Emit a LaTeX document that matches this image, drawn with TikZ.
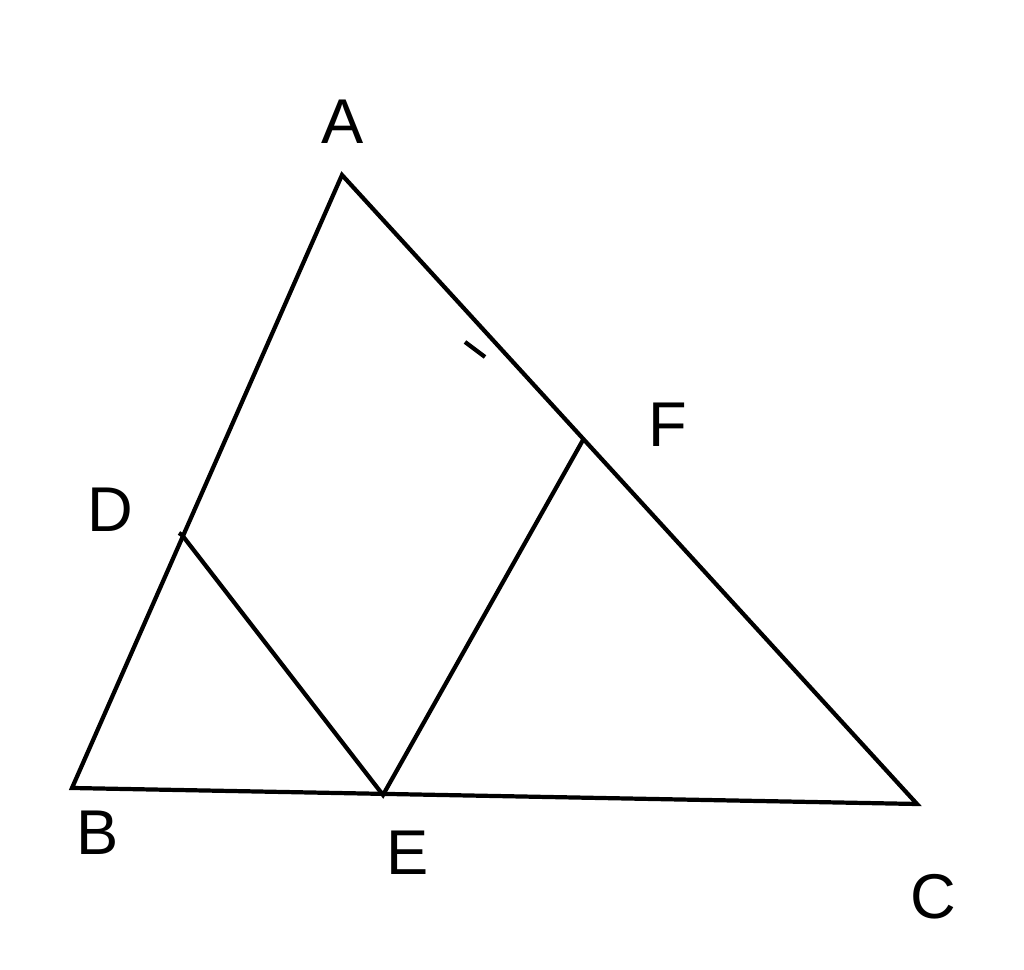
\documentclass[tikz,border=0pt]{standalone}
\usepackage{fontspec}
\setmainfont{Liberation Sans}
\begin{document}
\begin{tikzpicture}[line width=1.2pt, lbl/.style={font=\fontsize{18}{20}\selectfont}]
\useasboundingbox (0,0) rectangle (10.24,9.70);
\coordinate (A) at (3.42,7.95);
\coordinate (B) at (0.72,1.82);
\coordinate (C) at (9.17,1.66);
\coordinate (D) at (1.82,4.35);
\coordinate (E) at (3.83,1.75);
\coordinate (F) at (5.83,5.30);
\coordinate (t1) at (4.65,6.28);
\coordinate (t2) at (4.85,6.13);

\node [lbl] (la) at (3.43,8.48) {A};
\node [lbl] (lb) at (0.98,1.37) {B};
\node [lbl] (lc) at (9.33,0.73) {C};
\node [lbl] (ld) at (1.10,4.60) {D};
\node [lbl] (le) at (4.08,1.17) {E};
\node [lbl] (lf) at (6.68,5.45) {F};

\draw (A) -- (B) -- (C) -- cycle;
\draw (D) -- (E) -- (F);
\draw (1.79,4.37) -- (D);
\draw (t1) -- (t2);
\end{tikzpicture}
\end{document}
